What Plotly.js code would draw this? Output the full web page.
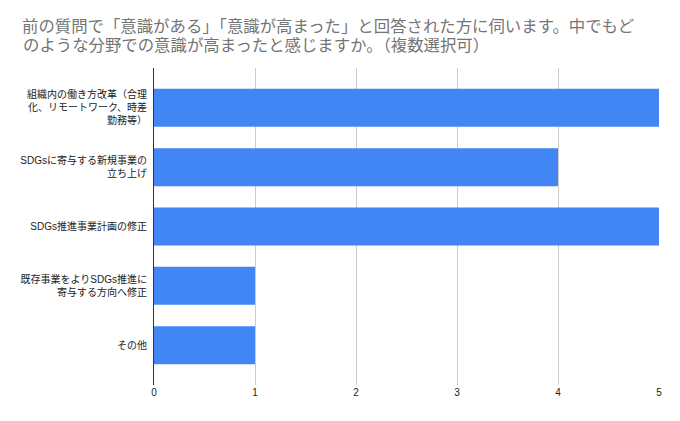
<!DOCTYPE html>
<html>
<head>
<meta charset="utf-8">
<script src="https://cdn.plot.ly/plotly-3.0.1.min.js"></script>
<style>html,body{margin:0;padding:0;background:#fff;}#chart{width:680px;height:421px;}</style>
</head>
<body>
<div id="chart"></div>
<script>
const categories = [
  "組織内の働き方改革（合理<br>化、リモートワーク、時差<br>勤務等）",
  "SDGsに寄与する新規事業の<br>立ち上げ",
  "SDGs推進事業計画の修正",
  "既存事業をよりSDGs推進に<br>寄与する方向へ修正",
  "その他"
];
const counts = [5, 4, 5, 1, 1];
const xTicks = [0, 1, 2, 3, 4, 5];
const titleLine1 = "前の質問で「意識がある」「意識が高まった」と回答された方に伺います。中でもど";
const titleLine2 = "のような分野での意識が高まったと感じますか。（複数選択可）";

const fontFam = '"Liberation Sans", Arial, "Noto Sans CJK JP", sans-serif';
const titleFont = {family: '"Noto Sans CJK JP", sans-serif', size: 16.4, color: '#757575'};

const W = 680, H = 421;
const M = {l: 154, r: 21, t: 68, b: 36};
const plotH = H - M.t - M.b, plotW = W - M.l - M.r;

const trace = {
  type: 'bar',
  orientation: 'h',
  y: categories,
  x: counts,
  width: 0.64,
  marker: {color: '#4285F4', line: {width: 0}},
  hoverinfo: 'none'
};

const layout = {
  width: W,
  height: H,
  margin: M,
  paper_bgcolor: '#ffffff',
  plot_bgcolor: '#ffffff',
  showlegend: false,
  font: {family: fontFam, size: 10, color: '#222222'},
  title: {
    text: titleLine1,
    font: titleFont,
    x: 22 / W, xref: 'container', xanchor: 'left',
    y: 1 - 26.5 / H, yref: 'container', yanchor: 'middle'
  },
  annotations: [{
    text: titleLine2,
    font: titleFont,
    showarrow: false,
    xref: 'paper', yref: 'paper',
    x: (22 - M.l) / plotW, xanchor: 'left',
    y: (H - M.b - 44) / plotH, yanchor: 'middle',
    borderpad: 0
  }],
  xaxis: {
    range: [0, 5],
    tickvals: xTicks,
    ticktext: xTicks.map(String),
    showgrid: true,
    gridcolor: '#cccccc',
    gridwidth: 1,
    zeroline: false,
    showline: false,
    ticks: '',
    tickfont: {size: 10, color: '#222222'},
    ticklabelstandoff: 0,
    fixedrange: true
  },
  yaxis: {
    type: 'category',
    categoryorder: 'array',
    categoryarray: categories,
    range: [4.67, -0.67],
    showgrid: false,
    zeroline: false,
    showline: true,
    linecolor: '#333333',
    linewidth: 1,
    ticks: '',
    tickfont: {size: 10, color: '#222222'},
    ticklabelstandoff: 4,
    fixedrange: true
  }
};

Plotly.newPlot('chart', [trace], layout, {displayModeBar: false, staticPlot: true});
</script>
</body>
</html>
